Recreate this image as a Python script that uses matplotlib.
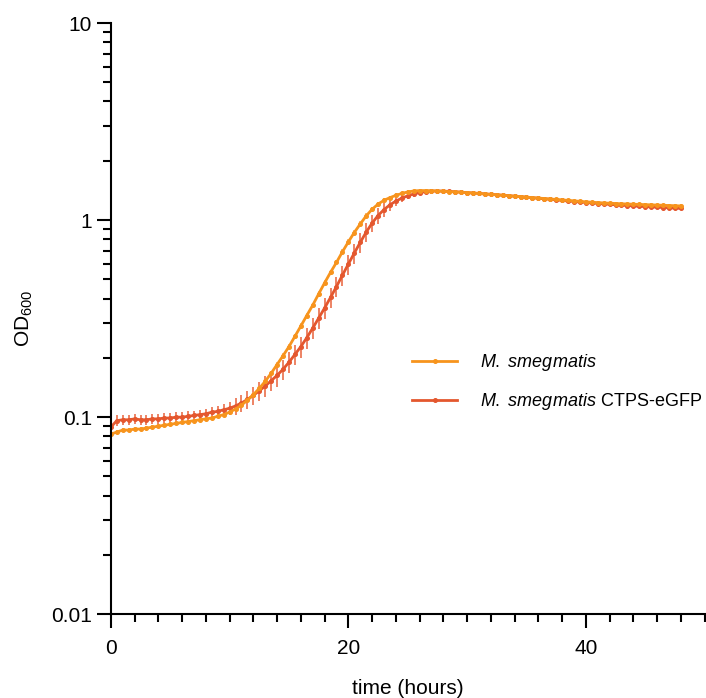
import numpy as np
import matplotlib
matplotlib.use('Agg')
import matplotlib.pyplot as plt
from matplotlib.lines import Line2D

plt.rcParams['font.family'] = ['Liberation Sans', 'DejaVu Sans']
plt.rcParams['mathtext.fontset'] = 'custom'
plt.rcParams['mathtext.rm'] = 'Liberation Sans'
plt.rcParams['mathtext.it'] = 'Liberation Sans:italic'

# time points (hours), one reading every 30 min
time_h = np.arange(0, 48.5, 0.5)

od_wt = [0.082, 0.084, 0.086, 0.086, 0.087, 0.087, 0.088, 0.089, 0.090, 0.091,
         0.092, 0.093, 0.094, 0.095, 0.096, 0.097, 0.098, 0.099, 0.101, 0.103,
         0.106, 0.110, 0.115, 0.122, 0.130, 0.140, 0.152, 0.167, 0.185, 0.205,
         0.228, 0.257, 0.290, 0.328, 0.370, 0.422, 0.480, 0.543, 0.610, 0.690,
         0.775, 0.865, 0.955, 1.050, 1.135, 1.205, 1.260, 1.300, 1.335, 1.365,
         1.390, 1.405, 1.412, 1.412, 1.410, 1.405, 1.400, 1.395, 1.390, 1.385,
         1.378, 1.372, 1.365, 1.358, 1.350, 1.343, 1.336, 1.329, 1.322, 1.315,
         1.308, 1.301, 1.294, 1.287, 1.280, 1.273, 1.266, 1.259, 1.252, 1.245,
         1.238, 1.232, 1.227, 1.222, 1.218, 1.214, 1.210, 1.207, 1.204, 1.201,
         1.198, 1.195, 1.192, 1.189, 1.186, 1.183, 1.180]

sd_wt = [0.002, 0.002, 0.002, 0.002, 0.002, 0.002, 0.002, 0.002, 0.002, 0.002,
         0.002, 0.002, 0.002, 0.002, 0.002, 0.002, 0.002, 0.002, 0.002, 0.002,
         0.002, 0.003, 0.003, 0.003, 0.004, 0.004, 0.005, 0.005, 0.006, 0.006,
         0.007, 0.008, 0.009, 0.010, 0.011, 0.013, 0.014, 0.016, 0.018, 0.021,
         0.023, 0.026, 0.029, 0.031, 0.034, 0.036, 0.035, 0.033, 0.030, 0.027,
         0.025, 0.022, 0.020, 0.020, 0.020, 0.020, 0.020, 0.020, 0.020, 0.020,
         0.020, 0.020, 0.020, 0.020, 0.020, 0.020, 0.020, 0.020, 0.020, 0.020,
         0.020, 0.020, 0.020, 0.020, 0.020, 0.020, 0.020, 0.020, 0.020, 0.020,
         0.020, 0.020, 0.020, 0.020, 0.020, 0.020, 0.020, 0.020, 0.020, 0.020,
         0.020, 0.020, 0.020, 0.020, 0.020, 0.020, 0.020]

od_ctps = [0.089, 0.096, 0.097, 0.097, 0.098, 0.097, 0.097, 0.098, 0.098, 0.099,
           0.099, 0.100, 0.100, 0.101, 0.102, 0.103, 0.104, 0.106, 0.107, 0.109,
           0.111, 0.114, 0.118, 0.123, 0.129, 0.136, 0.144, 0.153, 0.163, 0.175,
           0.190, 0.208, 0.228, 0.253, 0.283, 0.318, 0.358, 0.405, 0.460, 0.525,
           0.598, 0.680, 0.770, 0.868, 0.965, 1.055, 1.130, 1.195, 1.248, 1.292,
           1.328, 1.356, 1.378, 1.393, 1.402, 1.405, 1.403, 1.398, 1.392, 1.386,
           1.379, 1.372, 1.365, 1.358, 1.351, 1.344, 1.337, 1.330, 1.322, 1.314,
           1.306, 1.298, 1.290, 1.282, 1.274, 1.266, 1.258, 1.250, 1.242, 1.235,
           1.228, 1.221, 1.214, 1.208, 1.202, 1.196, 1.190, 1.185, 1.180, 1.175,
           1.170, 1.166, 1.162, 1.158, 1.154, 1.150, 1.146]

sd_ctps = [0.005, 0.006, 0.006, 0.006, 0.006, 0.006, 0.006, 0.006, 0.006, 0.006,
           0.006, 0.006, 0.006, 0.006, 0.006, 0.006, 0.006, 0.006, 0.007, 0.007,
           0.008, 0.011, 0.012, 0.013, 0.014, 0.015, 0.017, 0.018, 0.020, 0.021,
           0.023, 0.025, 0.028, 0.031, 0.034, 0.038, 0.043, 0.048, 0.055, 0.062,
           0.070, 0.078, 0.086, 0.094, 0.098, 0.100, 0.095, 0.085, 0.072, 0.060,
           0.050, 0.042, 0.035, 0.030, 0.027, 0.025, 0.025, 0.025, 0.025, 0.025,
           0.025, 0.025, 0.025, 0.025, 0.025, 0.025, 0.025, 0.025, 0.025, 0.025,
           0.025, 0.025, 0.025, 0.025, 0.025, 0.025, 0.025, 0.025, 0.025, 0.025,
           0.025, 0.025, 0.025, 0.025, 0.025, 0.025, 0.025, 0.025, 0.025, 0.025,
           0.025, 0.025, 0.025, 0.025, 0.025, 0.025, 0.025]

labels = [r'$\mathit{M.\ smegmatis}$', r'$\mathit{M.\ smegmatis}$ CTPS-eGFP']
y_ticks = [0.01, 0.1, 1, 10]
y_ticklabels = ['0.01', '0.1', '1', '10']
x_ticks = [0, 20, 40]

col_wt = '#F7941D'
col_ctps = '#E4572E'

fig = plt.figure(figsize=(7.06, 6.98), dpi=100)
ax = fig.add_axes([0.157, 0.120, 0.841, 0.847])

ax.errorbar(time_h, od_ctps, yerr=sd_ctps, color=col_ctps, lw=2.0,
            marker='o', ms=2.6, ecolor='#EC7A58', elinewidth=1.3, capsize=0)
ax.errorbar(time_h, od_wt, yerr=sd_wt, color=col_wt, lw=2.0,
            marker='o', ms=2.6, ecolor='#F8A850', elinewidth=1.1, capsize=0)

ax.set_yscale('log')
ax.set_ylim(0.01, 10)
ax.set_xlim(0, 50)
ax.set_yticks(y_ticks)
ax.set_yticklabels(y_ticklabels)
ax.set_xticks(x_ticks)
ax.set_xticks(np.arange(0, 51, 2), minor=True)

for s in ['top', 'right']:
    ax.spines[s].set_visible(False)
for s in ['left', 'bottom']:
    ax.spines[s].set_linewidth(1.5)
ax.tick_params(which='major', length=10, width=1.5, labelsize=15)
ax.tick_params(which='minor', length=6, width=1.5)
ax.tick_params(axis='x', which='major', pad=8)

ax.set_xlabel('time (hours)', fontsize=15, labelpad=15)
ax.set_ylabel(r'OD$_{\mathregular{600}}$', fontsize=15, labelpad=12)

handles = [Line2D([], [], color=col_wt, lw=2.0, marker='o', ms=2.6),
           Line2D([], [], color=col_ctps, lw=2.0, marker='o', ms=2.6)]
ax.legend(handles, labels, frameon=False, fontsize=13, numpoints=1,
          loc='center left', bbox_to_anchor=(0.508, 0.393), borderpad=0,
          borderaxespad=0, handlelength=2.45, handletextpad=1.3,
          labelspacing=1.0)

fig.savefig('out.png', dpi=100)
